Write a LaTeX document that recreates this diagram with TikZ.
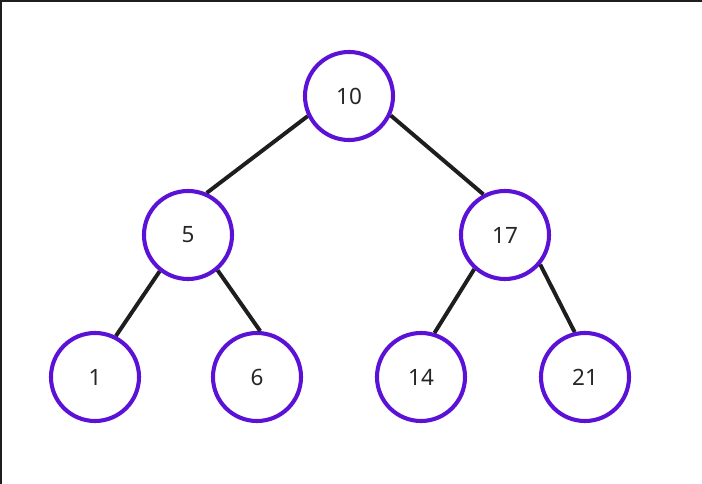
\documentclass[tikz,border=0pt]{standalone}
\usepackage{amsmath}
\usepackage{fontspec}
\setmainfont{Noto Sans}
\usepackage{tikz}
\definecolor{heappurple}{HTML}{5B12D6}
\definecolor{edgegray}{HTML}{1E1E1E}
\definecolor{textgray}{HTML}{262626}

\begin{document}
\begin{tikzpicture}[x=0.025cm,y=0.025cm,
  heapnode/.style={circle,draw=heappurple,line width=2.9pt,minimum size=2.2cm,inner sep=0pt,text=textgray,font=\fontsize{16}{18}\selectfont},
  edge/.style={draw=edgegray,line width=2.8pt}]
\useasboundingbox (0,0) rectangle (702,484);
\fill[edgegray] (0,482) rectangle (702,484);
\fill[edgegray] (0,0) rectangle (2,484);
\node[heapnode] (n10) at (349,388) {10};
\node[heapnode] (n5) at (188,249) {5};
\node[heapnode] (n17) at (505,249) {17};
\node[heapnode] (n1) at (95,107) {1};
\node[heapnode] (n6) at (257,107) {6};
\node[heapnode] (n14) at (421,107) {14};
\node[heapnode] (n21) at (585,107) {21};
\draw[edge] (n10.206) -- (n5.66);
\draw[edge] (n10.335) -- (n17.118);
\draw[edge] (n5.232) -- (n1.63);
\draw[edge] (n5.310) -- (n6.86);
\draw[edge] (n17.228) -- (n14.73);
\draw[edge] (n17.320) -- (n21.103);
\end{tikzpicture}
\end{document}
